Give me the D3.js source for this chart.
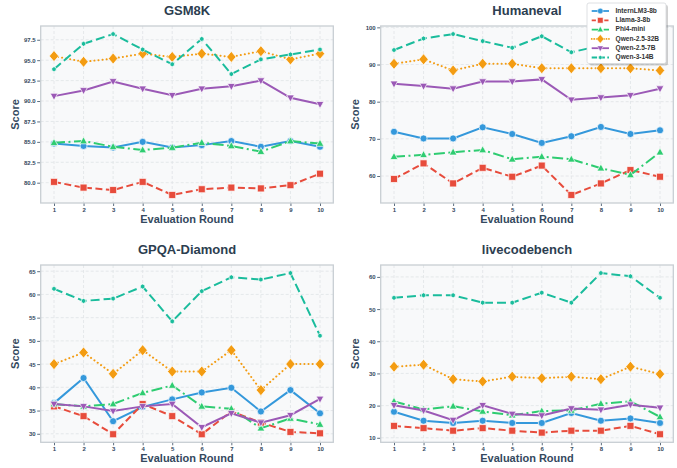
<!DOCTYPE html>
<html>
<head>
<meta charset="utf-8">
<script src="https://cdn.jsdelivr.net/npm/d3@7"></script>
<style>
  body { margin: 0; background: #fff; }
  svg { display: block; font-family: "Liberation Sans", Arial, sans-serif; }
</style>
</head>
<body>
<div id="chart"></div>
<script>
// ---- data ----
const rounds = [1, 2, 3, 4, 5, 6, 7, 8, 9, 10];
const models = ["InternLM3-8b", "Llama-3-8b", "Phi4-mini", "Qwen-2.5-32B", "Qwen-2.5-7B", "Qwen-3-14B"];

const gsm8k = {
  "InternLM3-8b": [84.8, 84.5, 84.3, 85.0, 84.3, 84.6, 85.1, 84.4, 85.1, 84.4],
  "Llama-3-8b":   [80.1, 79.4, 79.1, 80.1, 78.5, 79.2, 79.4, 79.3, 79.7, 81.1],
  "Phi4-mini":    [84.9, 85.1, 84.4, 84.0, 84.3, 84.9, 84.5, 83.8, 85.1, 84.8],
  "Qwen-2.5-32B": [95.5, 94.8, 95.2, 95.8, 95.4, 95.8, 95.4, 96.1, 95.1, 95.8],
  "Qwen-2.5-7B":  [90.6, 91.3, 92.4, 91.5, 90.7, 91.5, 91.8, 92.5, 90.4, 89.6],
  "Qwen-3-14B":   [93.9, 97.0, 98.2, 96.3, 94.5, 97.6, 93.3, 95.1, 95.7, 96.3]
};
const humaneval = {
  "InternLM3-8b": [71.9, 70.1, 70.1, 73.1, 71.3, 68.9, 70.7, 73.2, 71.3, 72.3],
  "Llama-3-8b":   [59.2, 63.4, 58.0, 62.2, 59.8, 62.8, 54.9, 58.0, 61.6, 59.8],
  "Phi4-mini":    [65.2, 65.7, 66.4, 67.0, 64.5, 65.2, 64.5, 62.1, 60.3, 66.4],
  "Qwen-2.5-32B": [90.2, 91.4, 88.4, 90.2, 90.2, 89.0, 89.0, 89.0, 89.0, 88.4],
  "Qwen-2.5-7B":  [84.8, 84.2, 83.5, 85.4, 85.4, 86.0, 80.5, 81.1, 81.7, 83.5],
  "Qwen-3-14B":   [93.9, 97.0, 98.2, 96.3, 94.5, 97.6, 93.3, 95.1, 96.3, 97.0]
};
const gpqa = {
  "InternLM3-8b": [36.6, 42.0, 32.7, 35.8, 37.4, 38.9, 39.9, 34.8, 39.4, 34.4],
  "Llama-3-8b":   [35.9, 33.8, 29.9, 36.4, 33.8, 29.9, 34.8, 32.4, 30.4, 30.1],
  "Phi4-mini":    [36.4, 35.9, 36.4, 38.8, 40.4, 35.9, 35.4, 31.2, 33.3, 32.0],
  "Qwen-2.5-32B": [45.0, 47.5, 42.9, 48.0, 43.4, 43.4, 48.0, 39.4, 45.0, 45.0],
  "Qwen-2.5-7B":  [36.4, 35.9, 34.9, 35.9, 36.4, 31.4, 34.4, 32.4, 34.0, 37.5],
  "Qwen-3-14B":   [61.2, 58.6, 59.1, 61.7, 54.2, 60.7, 63.7, 63.2, 64.6, 51.1]
};
const livecode = {
  "InternLM3-8b": [18.1, 15.3, 14.6, 15.3, 14.6, 14.6, 17.7, 15.3, 16.0, 14.6],
  "Llama-3-8b":   [13.7, 13.0, 12.2, 13.0, 12.2, 11.6, 12.2, 12.2, 13.7, 11.1],
  "Phi4-mini":    [21.3, 18.8, 19.8, 18.2, 17.0, 18.3, 18.5, 20.6, 21.3, 16.5],
  "Qwen-2.5-32B": [32.1, 32.7, 28.2, 27.5, 29.0, 28.5, 29.0, 28.2, 32.1, 29.8],
  "Qwen-2.5-7B":  [20.1, 18.5, 15.5, 20.1, 17.4, 16.9, 19.1, 18.7, 20.3, 19.3],
  "Qwen-3-14B":   [53.5, 54.3, 54.3, 52.0, 52.0, 55.1, 52.0, 61.2, 60.2, 53.5]
};

const gsmTicks = [80, 82.5, 85, 87.5, 90, 92.5, 95, 97.5];
const humanTicks = [60, 70, 80, 90, 100];
const gpqaTicks = [30, 35, 40, 45, 50, 55, 60, 65];
const liveTicks = [10, 20, 30, 40, 50, 60];

// ---- styles ----
const style = {
  "InternLM3-8b": { color: "#3498db", dash: null, marker: "circle" },
  "Llama-3-8b":   { color: "#e74c3c", dash: "7,3.5", marker: "square" },
  "Phi4-mini":    { color: "#2ecc71", dash: "11,3.5,2,3.5", marker: "triangleUp" },
  "Qwen-2.5-32B": { color: "#f39c12", dash: "0.1,4", marker: "diamond" },
  "Qwen-2.5-7B":  { color: "#9b59b6", dash: null, marker: "triangleDown" },
  "Qwen-3-14B":   { color: "#1abc9c", dash: "9,4", marker: "hexagon" }
};

const W = 677, H = 468;
const svg = d3.select("#chart").append("svg").attr("width", W).attr("height", H);

function markerPath(kind, s) {
  switch (kind) {
    case "circle": return d3.symbol(d3.symbolCircle, s * s * 0.8)();
    case "square": return `M${-s/2},${-s/2}h${s}v${s}h${-s}z`;
    case "triangleUp": return `M0,${-s*0.6}L${s*0.55},${s*0.4}L${-s*0.55},${s*0.4}z`;
    case "triangleDown": return `M0,${s*0.6}L${s*0.55},${-s*0.4}L${-s*0.55},${-s*0.4}z`;
    case "diamond": return `M0,${-s*0.65}L${s*0.55},0L0,${s*0.65}L${-s*0.55},0z`;
    case "hexagon": {
      const r = s * 0.42;
      return d3.range(6).map((i, k) => {
        const a = Math.PI / 6 + i * Math.PI / 3;
        return (k ? "L" : "M") + (r * Math.cos(a)) + "," + (r * Math.sin(a));
      }).join("") + "z";
    }
  }
}
const markerSize = { circle: 7, square: 7, triangleUp: 7, triangleDown: 7, diamond: 8.5, hexagon: 6 };

function panel(opts) {
  const { left, right, top, bottom, title, data, ticks, fmt, titleY, labelY } = opts;
  const g = svg.append("g");

  const all = models.flatMap(m => data[m]);
  const lo = d3.min(all), hi = d3.max(all), pad = (hi - lo) * 0.05;
  const x = d3.scaleLinear().domain([0.55, 10.45]).range([left, right]);
  const y = d3.scaleLinear().domain([lo - pad, hi + pad]).range([bottom, top]);

  g.append("rect").attr("x", left).attr("y", top)
    .attr("width", right - left).attr("height", bottom - top)
    .attr("fill", "#f8f9fa");

  // grid
  g.selectAll(".gx").data(rounds).join("line")
    .attr("x1", d => x(d)).attr("x2", d => x(d))
    .attr("y1", top).attr("y2", bottom)
    .attr("stroke", "#dfe3e6").attr("stroke-width", 0.8).attr("stroke-dasharray", "3,2");
  g.selectAll(".gy").data(ticks).join("line")
    .attr("x1", left).attr("x2", right)
    .attr("y1", d => y(d)).attr("y2", d => y(d))
    .attr("stroke", "#dfe3e6").attr("stroke-width", 0.8).attr("stroke-dasharray", "3,2");

  // axes
  const xAxis = g.append("g").attr("transform", `translate(0,${bottom})`)
    .call(d3.axisBottom(x).tickValues(rounds).tickSize(3).tickPadding(1.5).tickFormat(d3.format("d")));
  const yAxis = g.append("g").attr("transform", `translate(${left},0)`)
    .call(d3.axisLeft(y).tickValues(ticks).tickSize(3.5).tickPadding(1.5).tickFormat(fmt));
  [xAxis, yAxis].forEach(a => {
    a.select(".domain").remove();
    a.selectAll(".tick line").attr("stroke", "#34495e").attr("stroke-width", 0.8);
    a.selectAll(".tick text").attr("fill", "#34495e").style("font-size", "6px").style("font-weight", "bold");
  });

  // frame
  g.append("rect").attr("x", left).attr("y", top)
    .attr("width", right - left).attr("height", bottom - top)
    .attr("fill", "none").attr("stroke", "#c8ced3").attr("stroke-width", 1.3);

  // lines + markers
  const line = d3.line().x((d, i) => x(rounds[i])).y(d => y(d));
  models.forEach(m => {
    const st = style[m];
    g.append("path").datum(data[m])
      .attr("d", line)
      .attr("fill", "none")
      .attr("stroke", st.color)
      .attr("stroke-width", 2)
      .attr("stroke-linecap", st.marker === "diamond" ? "round" : "butt")
      .attr("stroke-dasharray", st.dash);
    g.selectAll(null).data(data[m]).join("path")
      .attr("transform", (d, i) => `translate(${x(rounds[i])},${y(d)})`)
      .attr("d", markerPath(st.marker, markerSize[st.marker]))
      .attr("fill", st.color)
      .attr("stroke", "#fff").attr("stroke-width", 0.7);
  });

  g.append("text").attr("x", (left + right) / 2).attr("y", titleY)
    .attr("text-anchor", "middle").attr("dominant-baseline", "middle")
    .attr("fill", "#2c3e50").style("font-size", "13px").style("font-weight", "bold")
    .text(title);
  g.append("text").attr("x", (left + right) / 2).attr("y", labelY)
    .attr("text-anchor", "middle").attr("dominant-baseline", "middle")
    .attr("fill", "#34495e").style("font-size", "11px").style("font-weight", "bold")
    .text("Evaluation Round");
  g.append("text")
    .attr("transform", `translate(${left - 25},${(top + bottom) / 2}) rotate(-90)`)
    .attr("text-anchor", "middle").attr("dominant-baseline", "middle")
    .attr("fill", "#34495e").style("font-size", "11px").style("font-weight", "bold")
    .text("Score");
}

const f1 = d3.format(".1f"), f0 = d3.format("d");
panel({ left: 40.7, right: 333.3, top: 26, bottom: 203, title: "GSM8K", data: gsm8k, ticks: gsmTicks, fmt: f1, titleY: 12, labelY: 220.5 });
panel({ left: 380.7, right: 673.3, top: 26, bottom: 203, title: "Humaneval", data: humaneval, ticks: humanTicks, fmt: f0, titleY: 12, labelY: 220.5 });
panel({ left: 40.7, right: 333.3, top: 265, bottom: 442.3, title: "GPQA-Diamond", data: gpqa, ticks: gpqaTicks, fmt: f0, titleY: 251, labelY: 459.5 });
panel({ left: 380.7, right: 673.3, top: 265, bottom: 442.3, title: "livecodebench", data: livecode, ticks: liveTicks, fmt: f0, titleY: 251, labelY: 459.5 });

// ---- legend ----
const lg = svg.append("g").attr("transform", "translate(587,3)");
lg.append("rect").attr("x", 2).attr("y", 2).attr("width", 79).attr("height", 60.5)
  .attr("rx", 2).attr("fill", "#000").attr("opacity", 0.18);
lg.append("rect").attr("width", 79).attr("height", 60.5).attr("rx", 2)
  .attr("fill", "#fff").attr("stroke", "#d5d8dc").attr("stroke-width", 0.8);
models.forEach((m, i) => {
  const st = style[m], yy = 8 + i * 9.3;
  lg.append("line").attr("x1", 4.7).attr("x2", 22).attr("y1", yy).attr("y2", yy)
    .attr("stroke", st.color).attr("stroke-width", 1.8)
    .attr("stroke-linecap", st.marker === "diamond" ? "round" : "butt")
    .attr("stroke-dasharray", st.dash ? st.dash.split(",").map(v => v * 0.6).join(",") : null);
  lg.append("path").attr("transform", `translate(13.3,${yy})`)
    .attr("d", markerPath(st.marker, markerSize[st.marker] * 0.8))
    .attr("fill", st.color).attr("stroke", "#fff").attr("stroke-width", 0.5);
  lg.append("text").attr("x", 28.5).attr("y", yy).attr("dominant-baseline", "middle")
    .attr("fill", "#333").style("font-size", "6.6px").style("font-weight", "bold")
    .text(m);
});
</script>
</body>
</html>
